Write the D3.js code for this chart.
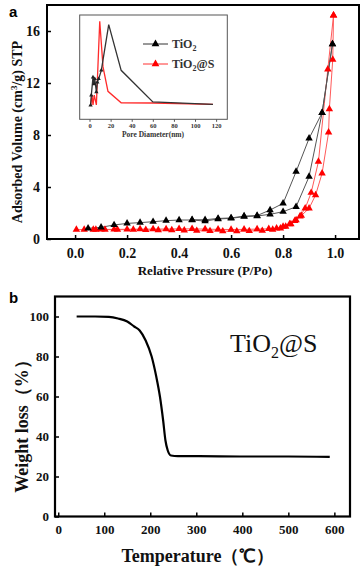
<!DOCTYPE html>
<html><head><meta charset="utf-8">
<script src="https://cdn.jsdelivr.net/npm/d3@7/dist/d3.min.js"></script>
<style>body{margin:0;background:#fff}svg{display:block}</style>
</head><body>
<svg id="c" width="364" height="571"></svg>
<script>
// ---------- Panel a: N2 isotherms ----------
const tiAdsX = [0.05,0.10,0.15,0.20,0.25,0.30,0.35,0.40,0.45,0.50,0.55,0.60,0.65,0.70,0.75,0.80,0.85,0.90,0.95,0.99];
const tiAdsY = [0.82,0.90,1.08,1.20,1.26,1.33,1.41,1.46,1.46,1.38,1.54,1.59,1.72,1.77,1.90,2.10,2.48,4.80,9.70,15.0];
const tiDesX = [0.99,0.95,0.90,0.85,0.80,0.75,0.70,0.65,0.60,0.55,0.50,0.45];
const tiDesY = [15.0,9.70,7.74,5.18,2.74,2.23,1.80,1.76,1.62,1.58,1.48,1.48];
const tsAdsX = [0.005,0.035,0.07,0.115,0.163,0.224,0.272,0.32,0.372,0.42,0.468,0.519,0.568,0.622,0.67,0.72,0.76,0.79,0.81,0.83,0.85,0.87,0.90,0.925,0.95,0.975,0.978,0.991,0.994];
const tsAdsY = [0.72,0.72,0.72,0.72,0.72,0.72,0.70,0.68,0.68,0.66,0.64,0.62,0.60,0.60,0.62,0.64,0.72,0.82,0.95,1.15,1.45,1.80,2.36,3.38,5.05,8.20,10.0,13.8,17.2];
const tsDesX = [0.994,0.972,0.936,0.908,0.885,0.865,0.845,0.825,0.80,0.775,0.745,0.70,0.65,0.60,0.55,0.50,0.45,0.40,0.35,0.30,0.25,0.20,0.15,0.10,0.08];
const tsDesY = [17.2,13.05,5.95,3.56,2.36,1.75,1.40,1.15,0.95,0.82,0.78,0.76,0.74,0.73,0.74,0.76,0.78,0.78,0.77,0.76,0.76,0.75,0.74,0.74,0.73];
const aXTicks = [0.0,0.2,0.4,0.6,0.8,1.0];
const aYTicks = [0,4,8,12,16];

// inset: pore size distribution (relative units)
const poreTiX = [1,1.7,3.3,4.3,5,6.5,7.4,8.7,11.2,18.2,30,60,117];
const poreTiY = [0,11.7,33,25,31,15.6,27,31,41,94.5,41,3.9,1.2];
const poreTsX = [1.1,2.4,3.3,4.5,6.5,9.7,12.8,17.5,30,60,117];
const poreTsY = [0,11.7,0.4,12,0.4,98.5,45,16.4,3,2.7,1.2];
const insetXTicks = [0,20,40,60,80,100,120];

// ---------- Panel b: TGA ----------
const tgaT = [40,80,110,130,150,165,177,190,203,213,221,228,233,238,245,260,300,400,500,590];
const tgaW = [100,100,99.8,99,97.5,95,93,88,80,70,60,48,38,33,30.5,30.2,30.2,30,30,29.8];
const bXTicks = [0,100,200,300,400,500,600];
const bYTicks = [0,20,40,60,80,100];

const svg = d3.select("#c");
const serif = "'Liberation Serif','Times New Roman',serif";
const sans = "'Liberation Sans',Arial,sans-serif";

// ===== Panel a =====
const xA = d3.scaleLinear().domain([-0.108,1.092]).range([47,359]);
const yA = d3.scaleLinear().domain([0,18]).range([239,5]);
const gA = svg.append("g");

const zip = (xs,ys)=>xs.map((x,i)=>[x,ys[i]]);
const lineA = d3.line().x(d=>xA(d[0])).y(d=>yA(d[1]));
const tri = d3.symbol().type(d3.symbolTriangle).size(24);

const series = [
  {d:zip(tsAdsX,tsAdsY), line:"#ff5a5a", fill:"#ff0000"},
  {d:zip(tsDesX,tsDesY), line:"#ff5a5a", fill:"#ff0000"},
  {d:zip(tiAdsX,tiAdsY), line:"#555", fill:"#000"},
  {d:zip(tiDesX,tiDesY), line:"#555", fill:"#000"}
];
series.forEach(s=>{
  gA.append("path").attr("d",lineA(s.d)).attr("fill","none").attr("stroke",s.line).attr("stroke-width",1);
});
series.forEach(s=>{
  gA.selectAll(null).data(s.d).enter().append("path")
    .attr("d",tri).attr("transform",d=>`translate(${xA(d[0])},${yA(d[1])})`)
    .attr("fill",s.fill);
});

// axes a
gA.append("rect").attr("x",47).attr("y",5).attr("width",312).attr("height",234)
  .attr("fill","none").attr("stroke","#000").attr("stroke-width",2);
const axA = gA.append("g").attr("transform","translate(0,239)")
  .call(d3.axisBottom(xA).tickValues(aXTicks).tickSize(-4).tickPadding(9).tickFormat(d3.format(".1f")));
const ayA = gA.append("g").attr("transform","translate(47,0)")
  .call(d3.axisLeft(yA).tickValues(aYTicks).tickSize(-4).tickPadding(7));
[axA,ayA].forEach(a=>{
  a.select(".domain").remove();
  a.selectAll(".tick line").attr("stroke","#000").attr("stroke-width",1.5);
  a.selectAll(".tick text").attr("font-family",serif).attr("font-weight","bold").attr("font-size",14).attr("fill","#111");
});
gA.append("text").attr("x",205).attr("y",275).attr("text-anchor","middle")
  .attr("font-family",serif).attr("font-weight","bold").attr("font-size",13).attr("fill","#111")
  .text("Relative Pressure (P/Po)");
const ytA = gA.append("text").attr("transform","translate(22,132) rotate(-90)").attr("text-anchor","middle")
  .attr("font-family",serif).attr("font-weight","bold").attr("font-size",14).attr("fill","#111");
ytA.append("tspan").text("Adsorbed Volume (cm");
ytA.append("tspan").attr("font-size",9).attr("dy",-5).text("3");
ytA.append("tspan").attr("dy",5).text("/g) STP");
svg.append("text").attr("x",9).attr("y",17).attr("font-family",sans).attr("font-weight","bold")
  .attr("font-size",15).text("a");

// inset
const xI = d3.scaleLinear().domain([-9.3,130.6]).range([79.7,227.3]);
const yI = d3.scaleLinear().domain([0,100]).range([105.3,20]);
const gI = svg.append("g");
gI.append("rect").attr("x",79.7).attr("y",15).attr("width",147.6).attr("height",104.3)
  .attr("fill","#fff").attr("stroke","#555").attr("stroke-width",1);
const lineI = d3.line().x(d=>xI(d[0])).y(d=>yI(d[1]));
gI.append("path").attr("d",lineI(zip(poreTsX,poreTsY))).attr("fill","none").attr("stroke","#ff2a2a").attr("stroke-width",1.3);
gI.append("path").attr("d",lineI(zip(poreTiX,poreTiY))).attr("fill","none").attr("stroke","#333").attr("stroke-width",1.3);
const triS = d3.symbol().type(d3.symbolTriangle).size(8);
gI.selectAll(null).data(zip(poreTiX,poreTiY).slice(0,9)).enter().append("path")
  .attr("d",triS).attr("transform",d=>`translate(${xI(d[0])},${yI(d[1])})`).attr("fill","#222");
const axI = gI.append("g").attr("transform","translate(0,119.3)")
  .call(d3.axisBottom(xI).tickValues(insetXTicks).tickSize(2.5).tickPadding(2));
axI.select(".domain").remove();
axI.selectAll(".tick line").attr("stroke","#555");
axI.selectAll(".tick text").attr("font-family",serif).attr("font-weight","bold").attr("font-size",6.5).attr("fill","#333");
gI.append("text").attr("x",153).attr("y",137).attr("text-anchor","middle")
  .attr("font-family",serif).attr("font-weight","bold").attr("font-size",7.5).attr("fill","#333")
  .text("Pore Diameter(nm)");
// legend
const legend = [{lab:"TiO", suf:"", y:44, line:"#333", fill:"#000"},{lab:"TiO", suf:"@S", y:64, line:"#ff3030", fill:"#ff0000"}];
legend.forEach(l=>{
  gI.append("line").attr("x1",143).attr("x2",168).attr("y1",l.y).attr("y2",l.y).attr("stroke",l.line).attr("stroke-width",1);
  gI.append("path").attr("d",d3.symbol().type(d3.symbolTriangle).size(26)()).attr("transform",`translate(155.5,${l.y})`).attr("fill",l.fill);
  const t = gI.append("text").attr("x",172).attr("y",l.y+4).attr("font-family",serif).attr("font-weight","bold")
    .attr("font-size",12).attr("fill","#333");
  t.append("tspan").text(l.lab);
  t.append("tspan").attr("font-size",8).attr("dy",3).text("2");
  if(l.suf) t.append("tspan").attr("dy",-3).text(l.suf);
});

// ===== Panel b =====
const xB = d3.scaleLinear().domain([-7,634]).range([55,350]);
const yB = d3.scaleLinear().domain([0,110]).range([516.5,296.5]);
const gB = svg.append("g");
gB.append("path").attr("d",d3.line().curve(d3.curveMonotoneX).x(d=>xB(d[0])).y(d=>yB(d[1]))(zip(tgaT,tgaW)))
  .attr("fill","none").attr("stroke","#000").attr("stroke-width",2.2);
gB.append("rect").attr("x",55).attr("y",296.5).attr("width",295).attr("height",220)
  .attr("fill","none").attr("stroke","#000").attr("stroke-width",2.2);
const axB = gB.append("g").attr("transform","translate(0,516.5)")
  .call(d3.axisBottom(xB).tickValues(bXTicks).tickSize(-4).tickPadding(8));
const ayB = gB.append("g").attr("transform","translate(55,0)")
  .call(d3.axisLeft(yB).tickValues(bYTicks).tickSize(-4).tickPadding(6));
[axB,ayB].forEach(a=>{
  a.select(".domain").remove();
  a.selectAll(".tick line").attr("stroke","#000").attr("stroke-width",1.5);
  a.selectAll(".tick text").attr("font-family",serif).attr("font-weight","bold").attr("font-size",13).attr("fill","#111");
});
gB.append("text").attr("x",198).attr("y",562).attr("text-anchor","middle")
  .attr("font-family",serif).attr("font-weight","bold").attr("font-size",18).attr("fill","#111")
  .text("Temperature（℃）");
gB.append("text").attr("transform","translate(28,422) rotate(-90)").attr("text-anchor","middle")
  .attr("font-family",serif).attr("font-weight","bold").attr("font-size",18).attr("fill","#111")
  .text("Weight loss（%）");
const ann = gB.append("text").attr("x",230).attr("y",352).attr("font-family",serif)
  .attr("font-size",26).attr("fill","#111");
ann.append("tspan").text("TiO");
ann.append("tspan").attr("font-size",16).attr("dy",6).text("2");
ann.append("tspan").attr("dy",-6).text("@S");
svg.append("text").attr("x",9).attr("y",303).attr("font-family",sans).attr("font-weight","bold")
  .attr("font-size",15).text("b");
</script>
</body></html>
